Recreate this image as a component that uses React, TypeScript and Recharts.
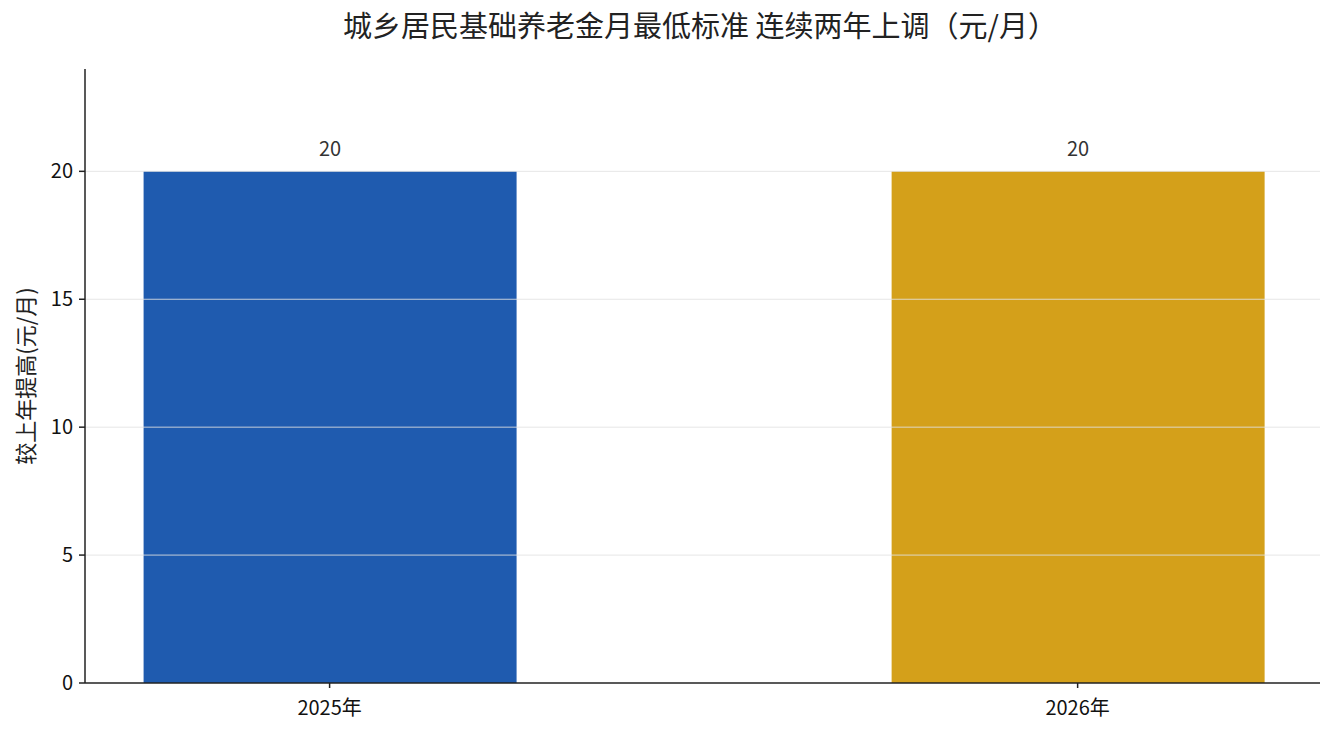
import { BarChart, Bar, XAxis, YAxis, ReferenceLine, Cell, LabelList } from "recharts"

const years = ["2025年", "2026年"]
const increases = [20, 20]
const barColors = ["#1f5baf", "#d4a01a"]
const yTicks = [0, 5, 10, 15, 20]

const data = years.map((year, i) => ({ x: i, year, value: increases[i] }))

const FONT = "'Noto Sans CJK SC', 'Noto Sans', sans-serif"

export default function App() {
  return (
    <div style={{ position: "absolute", left: 0, top: 0, width: 1335, height: 735, background: "#fff", fontFamily: FONT }}>
      <BarChart width={1335} height={735} data={data} margin={{ top: 69, right: 15, bottom: 22, left: 25 }}>
        <text x={700} y={37} textAnchor="middle" fontSize={29} fill="#222" fontFamily={FONT}>
          城乡居民基础养老金月最低标准 连续两年上调（元/月）
        </text>
        <XAxis
          type="number"
          dataKey="x"
          height={30}
          domain={[-0.327, 1.324]}
          ticks={[0, 1]}
          tickFormatter={(v: number) => years[v] ?? ""}
          allowDataOverflow
          axisLine={{ stroke: "#222", strokeWidth: 1.5 }}
          tickLine={{ stroke: "#222", strokeWidth: 1.5 }}
          tickSize={5}
          tick={{ fill: "#111", fontSize: 20, fontFamily: FONT, dy: 11 }}
        />
        <YAxis
          type="number"
          width={60}
          domain={[0, 24]}
          ticks={yTicks}
          allowDataOverflow
          axisLine={{ stroke: "#222", strokeWidth: 1.5 }}
          tickLine={{ stroke: "#222", strokeWidth: 1.5 }}
          tickSize={6}
          tick={{ fill: "#111", fontSize: 20, fontFamily: FONT, dx: -4 }}
          label={{
            content: ({ viewBox }: any) => {
              const cy = viewBox.y + viewBox.height / 2
              return (
                <text x={34} y={cy} transform={`rotate(-90, 34, ${cy})`} textAnchor="middle" fontSize={22} fill="#222" fontFamily={FONT}>
                  较上年提高(元/月)
                </text>
              )
            },
          }}
        />
        <Bar dataKey="value" barSize={373} isAnimationActive={false}>
          {data.map((d, i) => (
            <Cell key={d.year} fill={barColors[i]} />
          ))}
          <LabelList dataKey="value" position="top" offset={15} fill="#333" fontSize={20} fontFamily={FONT} />
        </Bar>
        {yTicks.slice(1).map((t) => (
          <ReferenceLine key={t} y={t} stroke="#e2e2e2" strokeOpacity={0.85} strokeWidth={1} />
        ))}
      </BarChart>
    </div>
  )
}
